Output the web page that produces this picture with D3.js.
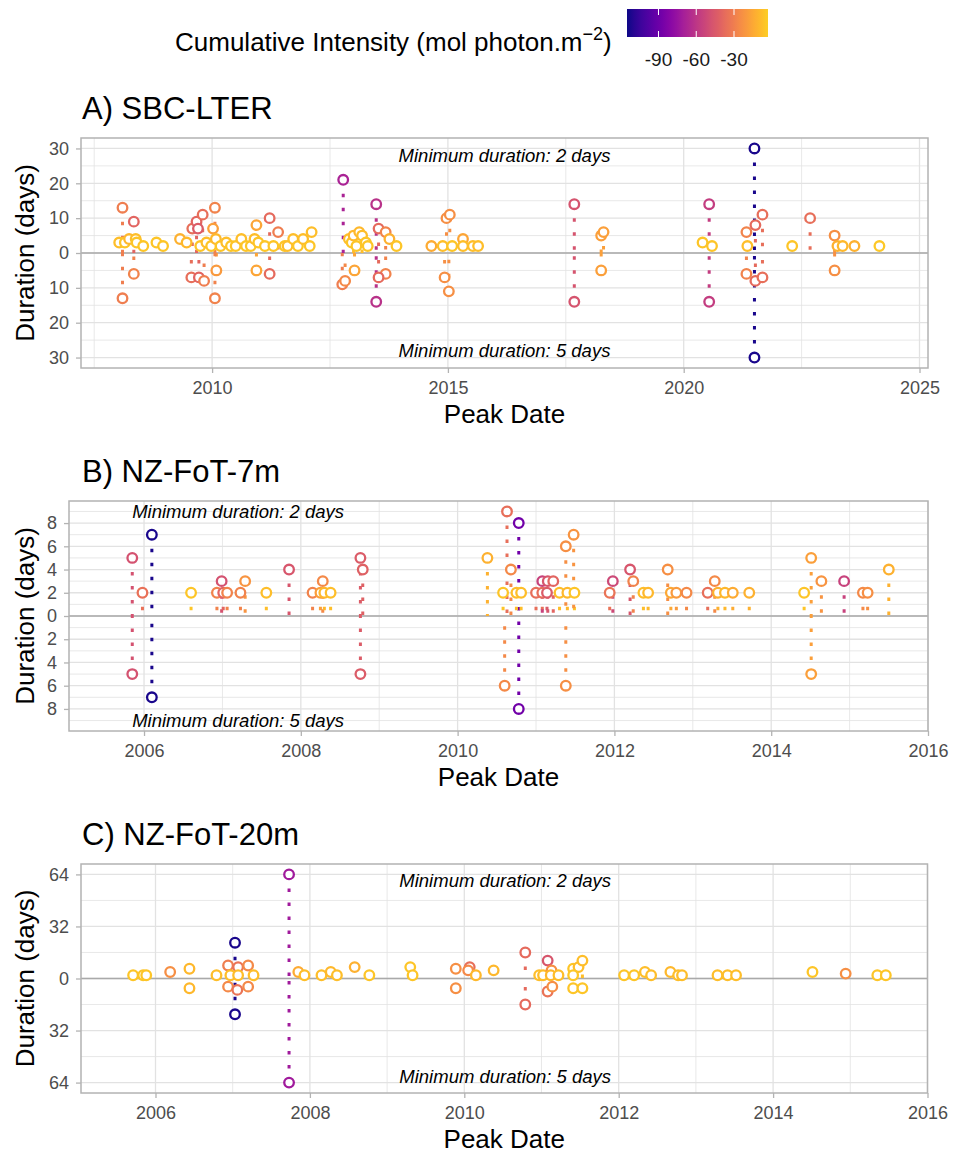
<!DOCTYPE html>
<html>
<head>
<meta charset="utf-8">
<script src="https://cdn.jsdelivr.net/npm/d3@7"></script>
<style>
  body { margin: 0; background: #fff; }
  svg { display: block; font-family: "Liberation Sans", Arial, sans-serif; }
</style>
</head>
<body>
<svg width="958" height="1153"></svg>
<script>
// ---- data (positive = min. duration 2 days, negative = min. duration 5 days) ----

// A) SBC-LTER
var aDate = [
  2008.10, 2008.10, 2008.34, 2008.34, 2008.03, 2008.15, 2008.24, 2008.38, 2008.40, 2008.54, 2008.82, 2008.96,
  2009.32, 2009.46, 2009.58, 2009.67, 2009.80, 2009.70, 2010.06, 2010.02, 2009.56, 2009.72, 2009.83, 2010.09, 2010.06,
  2009.75, 2009.88, 2009.98, 2010.08, 2010.18, 2010.30, 2010.40, 2010.50, 2010.62, 2010.72, 2010.82, 2010.90, 2010.98,
  2010.94, 2010.94, 2011.22, 2011.22, 2011.40, 2011.12, 2011.30, 2011.54, 2011.60, 2011.72, 2011.82, 2011.93, 2012.07, 2012.11,
  2012.78, 2012.76, 2012.82, 2013.02, 2012.90, 2012.96, 2013.00, 2013.06, 2013.12, 2013.18, 2013.26, 2013.30,
  2013.48, 2013.48, 2013.53, 2013.68, 2013.68, 2013.53, 2013.76, 2013.91,
  2014.65, 2014.89, 2014.97, 2015.04, 2015.09, 2014.93, 2015.02, 2015.32, 2015.32, 2015.53, 2015.64,
  2017.68, 2017.68, 2018.25, 2018.30, 2018.25,
  2020.40, 2020.54, 2020.54, 2020.60,
  2021.50, 2021.50, 2021.33, 2021.35, 2021.52, 2021.67, 2021.33, 2021.52, 2021.67,
  2022.30, 2022.68, 2023.20, 2023.20, 2023.26, 2023.37, 2023.62, 2024.15
];
var aDur = [
  13, -13, 9, -6, 3, 3, 4, 4, 3, 2, 3, 2,
  4, 3, 7, 9, 11, 7, 13, 7, -7, -7, -8, -5, -13,
  2, 3, 2, 4, 2, 3, 2, 2, 4, 2, 2, 4, 3,
  8, -5, 10, -6, 6, 2, 2, 2, 2, 4, 2, 4, 2, 6,
  21, -9, -8, -5, 4, 3, 5, 2, 6, 5, 3, 2,
  14, -14, 7, 6, -6, -7, 4, 2,
  2, 2, 10, 11, 2, -7, -11, 4, 2, 2, 2,
  14, -14, 5, 6, -5,
  3, 14, -14, 2,
  30, -30, 6, 2, 8, 11, -6, -8, -7,
  2, 10, 5, -5, 2, 2, 2, 2
];
var aInt = [
  -30, -30, -40, -28, -8, -6, -10, -8, -6, -6, -6, -6,
  -12, -10, -36, -40, -36, -44, -28, -18, -36, -40, -30, -20, -28,
  -6, -8, -6, -10, -6, -8, -6, -6, -8, -6, -6, -8, -6,
  -16, -16, -38, -38, -30, -6, -6, -6, -8, -8, -6, -8, -6, -8,
  -68, -30, -26, -16, -8, -6, -10, -6, -10, -8, -6, -6,
  -62, -62, -38, -28, -28, -38, -12, -6,
  -14, -8, -24, -24, -6, -24, -24, -16, -8, -8, -8,
  -47, -47, -18, -18, -18,
  -6, -57, -57, -6,
  -113, -113, -28, -8, -38, -36, -28, -38, -36,
  -6, -36, -24, -24, -12, -10, -12, -5
];

// B) NZ-FoT-7m
var bDate = [
  2005.85, 2005.85, 2005.98, 2006.10, 2006.10, 2006.60, 2006.93, 2006.99, 2007.01, 2007.06, 2007.23, 2007.29, 2007.56, 2007.85,
  2008.15, 2008.25, 2008.28, 2008.30, 2008.38, 2008.76, 2008.79, 2008.76,
  2010.38, 2010.58, 2010.63, 2010.68, 2010.60, 2010.78, 2010.78, 2010.75, 2010.81,
  2011.00, 2011.08, 2011.14, 2011.08, 2011.15, 2011.22, 2011.30, 2011.40, 2011.49, 2011.38, 2011.48, 2011.38,
  2011.94, 2011.98, 2012.20, 2012.24, 2012.37, 2012.43, 2012.68, 2012.72, 2012.79, 2012.92,
  2013.19, 2013.28, 2013.32, 2013.41, 2013.51, 2013.72,
  2014.42, 2014.51, 2014.51, 2014.64, 2014.93, 2015.17, 2015.23, 2015.50
];
var bDur = [
  5, -5, 2, 7, -7, 2, 2, 3, 2, 2, 2, 3, 2, 4,
  2, 2, 3, 2, 2, 5, 4, -5,
  5, 2, 9, 4, -6, 8, -8, 2, 2,
  2, 2, 2, 3, 3, 3, 2, 2, 2, 6, 7, -6,
  2, 3, 4, 3, 2, 2, 4, 2, 2, 2,
  2, 3, 2, 2, 2, 2,
  2, 5, -5, 3, 3, 2, 2, 4
];
var bInt = [
  -48, -48, -35, -113, -113, -6, -28, -48, -40, -28, -28, -22, -8, -46,
  -28, -18, -26, -10, -8, -44, -42, -44,
  -12, -6, -36, -26, -26, -88, -88, -8, -8,
  -36, -36, -44, -55, -46, -40, -8, -10, -6, -24, -22, -24,
  -34, -52, -46, -28, -8, -10, -24, -15, -20, -26,
  -36, -26, -12, -10, -14, -12,
  -6, -18, -18, -22, -55, -26, -24, -12
];

// C) NZ-FoT-20m
var cDate = [
  2005.71, 2005.84, 2005.88, 2006.19, 2006.44, 2006.44, 2006.79,
  2006.94, 2007.07, 2007.20, 2006.97, 2007.07, 2007.27, 2006.94, 2007.06, 2007.20, 2007.03, 2007.03,
  2007.73, 2007.73, 2007.85, 2007.93, 2008.15, 2008.27, 2008.35, 2008.58, 2008.77, 2009.30, 2009.33,
  2009.89, 2009.89, 2010.07, 2010.05, 2010.15, 2010.38, 2010.79, 2010.79, 2010.97, 2011.02,
  2011.08, 2011.13, 2011.12, 2011.22, 2011.08, 2011.14, 2011.41, 2011.48, 2011.53, 2011.41, 2011.41, 2011.53,
  2012.07, 2012.20, 2012.34, 2012.42, 2012.67, 2012.77, 2012.82, 2013.28, 2013.41, 2013.52,
  2014.51, 2014.94, 2015.35, 2015.46
];
var cDur = [
  2, 2, 2, 4, 6, -6, 2,
  8, 7, 8, 2, 2, 2, -5, -7, -5, 22, -22,
  64, -64, 4, 2, 2, 4, 2, 7, 2, 7, 2,
  6, -6, 7, 5, 2, 5, 16, -16, 2, 2,
  11, 5, 2, 2, -8, -5, 6, 7, 11, 2, -6, -6,
  2, 2, 4, 2, 4, 2, 2, 2, 2, 2,
  4, 3, 2, 2
];
var cInt = [
  -6, -6, -6, -24, -10, -10, -8,
  -30, -34, -26, -8, -8, -8, -26, -34, -26, -113, -113,
  -72, -72, -14, -8, -8, -10, -8, -12, -6, -6, -6,
  -24, -24, -36, -26, -10, -10, -38, -38, -8, -8,
  -46, -24, -10, -8, -34, -24, -6, -8, -8, -5, -6, -6,
  -6, -6, -8, -8, -10, -8, -8, -8, -8, -8,
  -6, -24, -6, -6
];

// ticks
var aYearTicks = [2010, 2015, 2020, 2025];
var aYearMinor = [2007.5, 2012.5, 2017.5, 2022.5];
var nzYearTicks = [2006, 2008, 2010, 2012, 2014, 2016];
var nzYearMinor = [2005, 2007, 2009, 2011, 2013, 2015];
var aDurTicks = [-30, -20, -10, 0, 10, 20, 30];
var aDurMinor = [-25, -15, -5, 5, 15, 25];
var bDurTicks = [-8, -6, -4, -2, 0, 2, 4, 6, 8];
var bDurMinor = [-9, -7, -5, -3, -1, 1, 3, 5, 7, 9];
var cDurTicks = [-64, -32, 0, 32, 64];
var cDurMinor = [-48, -16, 16, 48];
var intensityTicks = [-90, -60, -30];
var intensityRange = [-115, -3];

// ---- drawing ----
var svg = d3.select('svg');
var color = d3.scaleSequential(t => d3.interpolatePlasma(t * 0.9)).domain(intensityRange);

var panels = [
  { title: 'A) SBC-LTER', dates: aDate, durs: aDur, ints: aInt,
    left: 81, right: 928, top: 138, bottom: 368, xDomain: [2007.22, 2025.18], yMax: 33,
    xTicks: aYearTicks, xMinor: aYearMinor, yTicks: aDurTicks, yMinor: aDurMinor, noteX: 2016.2, noteY: 28 },
  { title: 'B) NZ-FoT-7m', dates: bDate, durs: bDur, ints: bInt,
    left: 69, right: 928, top: 501, bottom: 731, xDomain: [2005.043, 2016.0], yMax: 9.9,
    xTicks: nzYearTicks, xMinor: nzYearMinor, yTicks: bDurTicks, yMinor: bDurMinor, noteX: 2007.2, noteY: 9 },
  { title: 'C) NZ-FoT-20m', dates: cDate, durs: cDur, ints: cInt,
    left: 81, right: 927.5, top: 864, bottom: 1093, xDomain: [2005.035, 2016.0], yMax: 70.4,
    xTicks: nzYearTicks, xMinor: nzYearMinor, yTicks: cDurTicks, yMinor: cDurMinor, noteX: 2010.53, noteY: 60 }
];

panels.forEach(function(p) {
  var x = d3.scaleLinear().domain(p.xDomain).range([p.left, p.right]);
  var y = d3.scaleLinear().domain([-p.yMax, p.yMax]).range([p.bottom, p.top]);
  var g = svg.append('g');

  // title
  g.append('text')
    .attr('x', 82).attr('y', p.top - 19)
    .attr('font-size', 31).attr('fill', '#000')
    .text(p.title);

  // grid
  var grid = g.append('g').attr('stroke', '#e2e2e2').attr('fill', 'none');
  grid.selectAll('.xm').data(p.xMinor.filter(d => x(d) > p.left && x(d) < p.right)).enter().append('line')
    .attr('x1', d => x(d)).attr('x2', d => x(d)).attr('y1', p.top).attr('y2', p.bottom).attr('stroke-width', 0.8);
  grid.selectAll('.ym').data(p.yMinor.filter(d => Math.abs(d) < p.yMax)).enter().append('line')
    .attr('x1', p.left).attr('x2', p.right).attr('y1', d => y(d)).attr('y2', d => y(d)).attr('stroke-width', 0.8);
  grid.selectAll('.xM').data(p.xTicks).enter().append('line')
    .attr('x1', d => x(d)).attr('x2', d => x(d)).attr('y1', p.top).attr('y2', p.bottom).attr('stroke-width', 1.3);
  grid.selectAll('.yM').data(p.yTicks).enter().append('line')
    .attr('x1', p.left).attr('x2', p.right).attr('y1', d => y(d)).attr('y2', d => y(d)).attr('stroke-width', 1.3);

  // zero line
  g.append('line')
    .attr('x1', p.left).attr('x2', p.right).attr('y1', y(0)).attr('y2', y(0))
    .attr('stroke', '#a9a9a9').attr('stroke-width', 1.4);

  var pts = p.dates.map((d, i) => ({ date: d, dur: p.durs[i], int: p.ints[i] }));

  // dotted stems from each point to zero
  g.append('g').selectAll('path').data(pts).enter().append('path')
    .attr('d', d => `M${x(d.date)},${y(d.dur)}L${x(d.date)},${y(0)}`)
    .attr('stroke', d => color(d.int))
    .attr('stroke-width', 3)
    .attr('stroke-dasharray', '3.5,10.5')
    .attr('fill', 'none');

  // white-filled ring points
  g.append('g').selectAll('circle').data(pts).enter().append('circle')
    .attr('cx', d => x(d.date)).attr('cy', d => y(d.dur)).attr('r', 4.8)
    .attr('fill', '#fff')
    .attr('stroke', d => color(d.int))
    .attr('stroke-width', 2.3);

  // notes
  g.append('text')
    .attr('x', x(p.noteX)).attr('y', y(p.noteY)).attr('dy', '0.35em')
    .attr('text-anchor', 'middle').attr('font-style', 'italic').attr('font-size', 18.5)
    .text('Minimum duration: 2 days');
  g.append('text')
    .attr('x', x(p.noteX)).attr('y', y(-p.noteY)).attr('dy', '0.35em')
    .attr('text-anchor', 'middle').attr('font-style', 'italic').attr('font-size', 18.5)
    .text('Minimum duration: 5 days');

  // border
  g.append('rect')
    .attr('x', p.left).attr('y', p.top).attr('width', p.right - p.left).attr('height', p.bottom - p.top)
    .attr('fill', 'none').attr('stroke', '#b3b3b3').attr('stroke-width', 1.5);

  // axes
  var yAxis = g.append('g').attr('transform', `translate(${p.left},0)`)
    .call(d3.axisLeft(y).tickValues(p.yTicks).tickFormat(d => Math.abs(d)).tickSize(5).tickPadding(7));
  var xAxis = g.append('g').attr('transform', `translate(0,${p.bottom})`)
    .call(d3.axisBottom(x).tickValues(p.xTicks).tickFormat(d3.format('d')).tickSize(5).tickPadding(8));
  [yAxis, xAxis].forEach(function(a) {
    a.select('.domain').remove();
    a.selectAll('line').attr('stroke', '#b3b3b3').attr('stroke-width', 1.3);
    a.selectAll('text').attr('fill', '#4d4d4d').attr('font-size', 18)
      .attr('font-family', '"Liberation Sans", Arial, sans-serif');
  });

  // axis titles
  g.append('text')
    .attr('x', (p.left + p.right) / 2).attr('y', p.bottom + 55)
    .attr('text-anchor', 'middle').attr('font-size', 26)
    .text('Peak Date');
  g.append('text')
    .attr('transform', `translate(34,${(p.top + p.bottom) / 2}) rotate(-90)`)
    .attr('text-anchor', 'middle').attr('font-size', 26)
    .text('Duration (days)');
});

// ---- colour legend ----
var legX = d3.scaleLinear().domain(intensityRange).range([627, 768]);
var defs = svg.append('defs');
var grad = defs.append('linearGradient').attr('id', 'plasmaGrad');
d3.range(0, 1.0001, 0.05).forEach(function(t) {
  grad.append('stop').attr('offset', t).attr('stop-color', color(intensityRange[0] + t * (intensityRange[1] - intensityRange[0])));
});
var leg = svg.append('g');
leg.append('rect').attr('x', 627).attr('y', 9).attr('width', 141).attr('height', 28).attr('fill', 'url(#plasmaGrad)');
leg.selectAll('.tk').data(intensityTicks).enter().append('g').each(function(v) {
  var gg = d3.select(this);
  gg.append('line').attr('x1', legX(v)).attr('x2', legX(v)).attr('y1', 9).attr('y2', 15).attr('stroke', '#fff').attr('stroke-width', 1);
  gg.append('line').attr('x1', legX(v)).attr('x2', legX(v)).attr('y1', 31).attr('y2', 37).attr('stroke', '#fff').attr('stroke-width', 1);
  gg.append('text').attr('x', legX(v)).attr('y', 66).attr('text-anchor', 'middle')
    .attr('font-size', 19).attr('fill', '#1a1a1a').text(v);
});
var lt = leg.append('text').attr('x', 175).attr('y', 51).attr('font-size', 26).attr('fill', '#000');
lt.append('tspan').text('Cumulative Intensity (mol photon.m');
lt.append('tspan').attr('dy', -11).attr('font-size', 18).text('\u22122');
lt.append('tspan').attr('dy', 11).text(')');
</script>
</body>
</html>
